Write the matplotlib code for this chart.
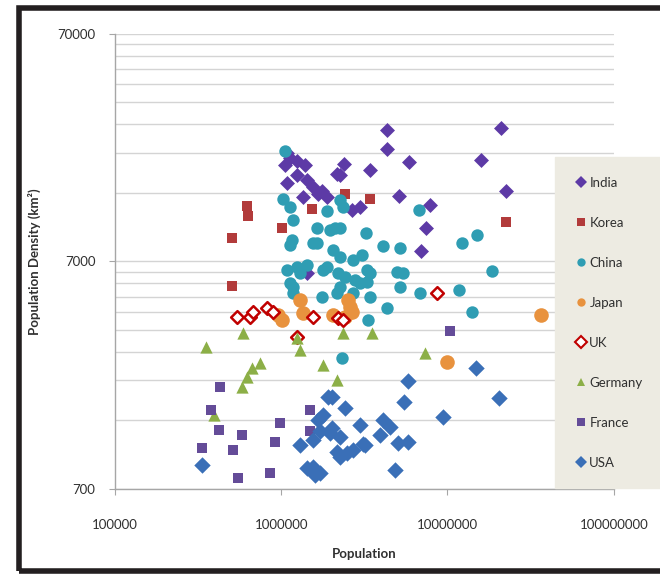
import matplotlib
matplotlib.use("Agg")
import matplotlib.pyplot as plt
from matplotlib.lines import Line2D
from matplotlib.patches import Rectangle
from matplotlib.ticker import FixedLocator, NullLocator, NullFormatter

plt.rcParams['font.family'] = ['Lato', 'DejaVu Sans']

# values (population, density per km2)
india_pop = [4310000, 4310000, 5840000, 16000000, 21000000, 22500000, 2380000, 2260000,
             3410000, 5090000, 7800000, 7380000, 2970000, 2660000, 6890000, 1090000,
             1130000, 1250000, 1060000, 1390000, 1250000, 1430000, 1090000, 1560000,
             1760000, 1880000, 2160000, 1350000, 1430000, 1670000]
india_density = [26500, 21900, 19200, 19600, 27000, 14200, 18800, 16700,
                 17700, 13500, 12400, 9860, 12100, 11800, 7740, 21000,
                 20000, 19400, 18500, 18500, 16700, 15900, 15400, 14800,
                 14300, 13400, 17000, 13400, 6200, 13900]

korea_pop = [626000, 634000, 509000, 509000, 1530000, 1010000, 2420000, 3410000, 22500000]
korea_density = [12300, 11100, 8830, 5430, 11900, 9770, 13900, 13200, 10400]

china_pop = [1060000, 1030000, 1130000, 1880000, 2260000, 2350000, 3230000, 1180000,
             1640000, 1960000, 2260000, 1160000, 1560000, 1090000, 1300000, 1880000,
             2050000, 2260000, 2700000, 3410000, 2970000, 1180000, 2260000, 2700000,
             1130000, 1640000, 1250000, 1130000, 1180000, 1430000, 1780000, 2190000,
             1760000, 2160000, 4080000, 5160000, 12300000, 15100000, 3050000, 18600000,
             2420000, 2770000, 3270000, 3270000, 4950000, 5380000, 5160000, 6800000,
             11800000, 3410000, 4310000, 14100000, 3320000, 2320000, 6700000, 2100000]
china_density = [21500, 13200, 12100, 11700, 13000, 12100, 9290, 10600,
                 9860, 9570, 9860, 8650, 8390, 6390, 6200, 6590,
                 7820, 7290, 7060, 6200, 5610, 5380, 5380, 5070,
                 8220, 8390, 6590, 5610, 5070, 6720, 6390, 6200,
                 4870, 5070, 8150, 7980, 8390, 9100, 7430, 6330,
                 5960, 5780, 6390, 5660, 6270, 6200, 5380, 5070,
                 5220, 4870, 4350, 4180, 3860, 2630, 11800, 9770]

japan_pop = [1300000, 1350000, 1010000, 960000, 2050000, 2520000, 2590000, 2420000,
             2660000, 10000000, 36600000]
japan_density = [4720, 4140, 3860, 4060, 4060, 4720, 4400, 3970,
                 4180, 2520, 4060]

uk_pop = [545000, 652000, 680000, 825000, 896000, 1250000, 1560000, 2190000, 2350000, 8590000]
uk_density = [3970, 3970, 4180, 4350, 4180, 3250, 3970, 3940, 3860, 5070]

germany_pop = [353000, 592000, 584000, 626000, 670000, 749000, 1300000, 1250000,
               1780000, 2160000, 2350000, 3510000, 7280000, 392000]
germany_density = [2940, 3380, 1960, 2170, 2380, 2500, 2850, 3210,
                   2450, 2100, 3380, 3380, 2760, 1480]

france_pop = [431000, 376000, 425000, 584000, 516000, 336000, 986000, 921000,
              553000, 859000, 1490000, 1490000, 10300000]
france_density = [1960, 1550, 1270, 1210, 1040, 1060, 1360, 1120,
                  782, 822, 1550, 1250, 3450]

usa_pop = [336000, 1910000, 2420000, 2970000, 1670000, 1300000, 1560000, 1560000,
           1710000, 1960000, 2480000, 3100000, 5750000, 5460000, 20500000, 9340000,
           4080000, 4500000, 3920000, 2260000, 3180000, 2700000, 2260000, 5020000,
           5750000, 4820000, 14900000, 1780000, 1430000, 1600000, 2160000, 1710000,
           2020000, 2020000]
usa_density = [891, 1770, 1590, 1340, 1410, 1090, 1150, 873,
               822, 1230, 1010, 1100, 2080, 1690, 1750, 1450,
               1410, 1310, 1210, 1180, 1090, 1040, 966, 1110,
               1120, 847, 2380, 1480, 865, 805, 1020, 1250,
               1300, 1770]

series = [
    ("India", india_pop, india_density, "D", "#5D3AA6", "#5D3AA6", 58),
    ("Korea", korea_pop, korea_density, "s", "#B23B3B", "#B23B3B", 58),
    ("China", china_pop, china_density, "o", "#2F9DB3", "#2F9DB3", 80),
    ("Japan", japan_pop, japan_density, "o", "#E8923E", "#E8923E", 110),
    ("UK", uk_pop, uk_density, "D", "white", "#C00000", 42),
    ("Germany", germany_pop, germany_density, "^", "#8CAF47", "#8CAF47", 78),
    ("France", france_pop, france_density, "s", "#644C98", "#644C98", 58),
    ("USA", usa_pop, usa_density, "D", "#3A6FB7", "#3A6FB7", 70),
]

fig = plt.figure(figsize=(6.6, 5.75), dpi=100)
ax = fig.add_axes([0.174, 0.150, 0.756, 0.791])

for name, xs, ys, mk, face, edge, size in series:
    lw = 1.8 if name == "UK" else 0
    ax.scatter(xs, ys, marker=mk, s=size, facecolor=face, edgecolor=edge,
               linewidths=lw, zorder=3)

ax.set_xscale("log")
ax.set_yscale("log")
ax.set_xlim(1e5, 1e8)
ax.set_ylim(700, 70000)

ax.xaxis.set_major_locator(FixedLocator([1e5, 1e6, 1e7, 1e8]))
ax.xaxis.set_minor_locator(NullLocator())
ax.set_xticklabels(["100000", "1000000", "10000000", "100000000"])
ax.yaxis.set_major_locator(FixedLocator([700, 7000, 70000]))
minor_y = [700 * k for k in range(2, 10)] + [7000 * k for k in range(2, 10)]
ax.yaxis.set_minor_locator(FixedLocator(minor_y))
ax.yaxis.set_minor_formatter(NullFormatter())
ax.set_yticklabels(["700", "7000", "70000"])

ax.grid(True, axis="y", which="both", color="#D4D4D4", linewidth=1.0, zorder=0)
ax.set_axisbelow(True)
for s in ["top", "right"]:
    ax.spines[s].set_visible(False)
for s in ["left", "bottom"]:
    ax.spines[s].set_color("#A6A6A6")
    ax.spines[s].set_linewidth(1.0)
ax.tick_params(axis="both", which="major", length=4, color="#A6A6A6",
               labelsize=9.5, labelcolor="#303030")
ax.tick_params(axis="x", which="major", pad=18)
ax.tick_params(axis="y", which="major", pad=10)
ax.tick_params(axis="y", which="minor", length=0)

ax.set_xlabel("Population", fontsize=9.5, fontweight="bold", color="#303030", labelpad=12)
ax.set_ylabel("Population Density (km²)", fontsize=9.5, fontweight="bold",
              color="#303030", labelpad=12)

handles = []
for name, xs, ys, mk, face, edge, size in series:
    handles.append(Line2D([], [], linestyle="none", marker=mk, markersize=6,
                          markerfacecolor=face, markeredgecolor=edge,
                          markeredgewidth=1.5 if name == "UK" else 0, label=name))
leg = fig.legend(handles=handles, loc="upper left", bbox_to_anchor=(0.841, 0.727),
                 frameon=True, fontsize=9.5, labelspacing=2.12, handletextpad=0.1,
                 handlelength=1.0, borderpad=1.5, borderaxespad=0)
leg.get_frame().set_facecolor("#EDEBE2")
leg.get_frame().set_edgecolor("#EDEBE2")
leg.get_frame().set_alpha(1)
leg.get_frame().set_boxstyle("square", pad=0)
for t in leg.get_texts():
    t.set_color("#303030")

fig.patches.append(Rectangle((0.0295, 0.007), 1.0, 0.979, transform=fig.transFigure,
                             fill=False, edgecolor="#231F20", linewidth=4.0, zorder=10))

fig.savefig("out.png", dpi=100)
